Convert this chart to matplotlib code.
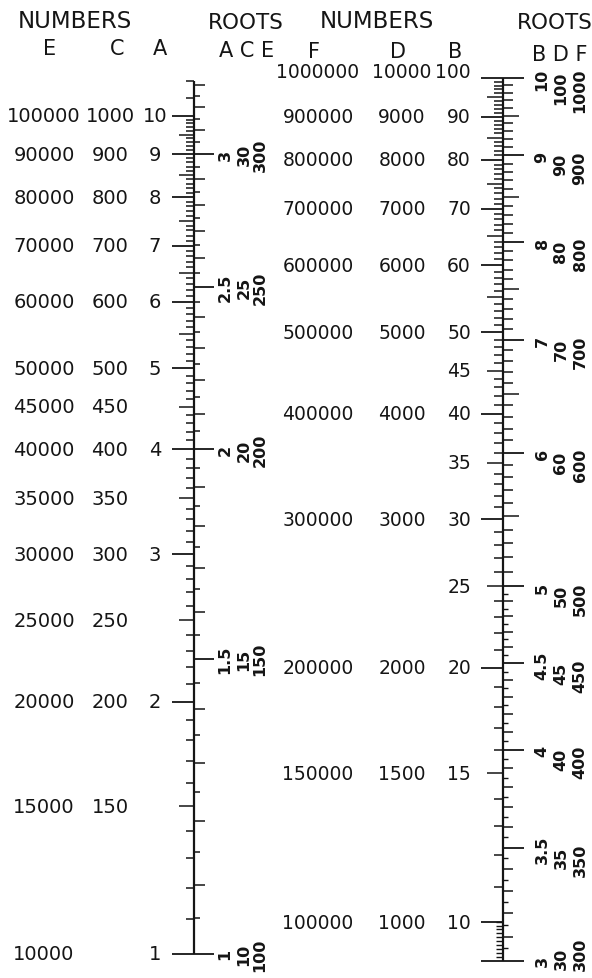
import numpy as np
import matplotlib.pyplot as plt
from matplotlib.transforms import offset_copy

# ---- left scale: numbers A (1..10), C = 100*A, E = 10000*A ----
left_vals = [10, 9, 8, 7, 6, 5, 4.5, 4, 3.5, 3, 2.5, 2, 1.5, 1]
col_e = ["100000", "90000", "80000", "70000", "60000", "50000", "45000",
         "40000", "35000", "30000", "25000", "20000", "15000", "10000"]
col_c = ["1000", "900", "800", "700", "600", "500", "450",
         "400", "350", "300", "250", "200", "150", ""]
col_a = ["10", "9", "8", "7", "6", "5", "", "4", "", "3", "", "2", "", "1"]

# roots on the left scale
left_roots = [1, 1.5, 2, 2.5, 3]
left_root_a = ["1", "1.5", "2", "2.5", "3"]
left_root_c = ["10", "15", "20", "25", "30"]
left_root_e = ["100", "150", "200", "250", "300"]

# ---- right scale: numbers B (10..100), D = 100*B, F = 10000*B ----
right_vals = [100, 90, 80, 70, 60, 50, 45, 40, 35, 30, 25, 20, 15, 10]
col_f = ["1000000", "900000", "800000", "700000", "600000", "500000", "",
         "400000", "", "300000", "", "200000", "150000", "100000"]
col_d = ["10000", "9000", "8000", "7000", "6000", "5000", "",
         "4000", "", "3000", "", "2000", "1500", "1000"]
col_b = ["100", "90", "80", "70", "60", "50", "45",
         "40", "35", "30", "25", "20", "15", "10"]

# roots on the right scale
right_roots = [3, 3.5, 4, 4.5, 5, 6, 7, 8, 9, 10]
right_root_b = ["3", "3.5", "4", "4.5", "5", "6", "7", "8", "9", "10"]
right_root_d = ["30", "35", "40", "45", "50", "60", "70", "80", "90", "100"]
right_root_f = ["300", "350", "400", "450", "500", "600", "700", "800", "900", "1000"]

INK = "#151515"
W, H = 592, 979

fig = plt.figure(figsize=(W / 100, H / 100), dpi=100)
fig.patch.set_facecolor("white")

# both scales are log scales laid over the full figure, x in pixels
axl = fig.add_axes([0, 0, 1, 1])
axl.set_yscale("log")
axl.set_xlim(0, W)
axl.set_ylim(0.936, 13.79)
axl.axis("off")

axr = fig.add_axes([0, 0, 1, 1])
axr.set_yscale("log")
axr.set_xlim(0, W)
axr.set_ylim(8.583, 124.1)
axr.axis("off")


def ftext(x, y, s, **kw):
    fig.text(x / W, 1 - y / H, s, ha="center", va="center", color=INK, **kw)


# headers
ftext(75, 21, "NUMBERS", fontsize=16.5)
ftext(50, 49, "E", fontsize=15)
ftext(117, 49, "C", fontsize=15)
ftext(160, 49, "A", fontsize=15)
ftext(246, 23, "ROOTS", fontsize=15.5)
ftext(247, 51, "A C E", fontsize=15)
ftext(377, 22, "NUMBERS", fontsize=16.5)
ftext(314, 52, "F", fontsize=15)
ftext(398, 52, "D", fontsize=15)
ftext(455, 52, "B", fontsize=15)
ftext(555, 23, "ROOTS", fontsize=15.5)
ftext(560, 55, "B D F", fontsize=15)

# ---------------- left scale ----------------
xl = 194
axl.vlines(xl, 1, 11, color=INK, lw=1.6)
num_fine = np.round(np.arange(1.1, 10.0, 0.1), 2)
num_minor = [v for v in num_fine if abs(v * 2 - round(v * 2)) > 1e-6]
num_half = [v for v in num_fine if abs(v * 2 - round(v * 2)) < 1e-6 and abs(v - round(v)) > 1e-6]
axl.hlines(num_minor + [10.5, 11], xl - 8, xl, color=INK, lw=1.1)
axl.hlines(num_half, xl - 15, xl, color=INK, lw=1.1)
axl.hlines(np.arange(1, 11), xl - 22, xl, color=INK, lw=1.3)

root_fine = np.round(np.arange(1.05, 3.31, 0.05), 2)
r_tenth = [r for r in root_fine if abs(r * 10 - round(r * 10)) < 1e-6 and r not in left_roots]
r_twentieth = [r for r in root_fine if abs(r * 10 - round(r * 10)) > 1e-6 and r not in left_roots]
axl.hlines(np.array(r_tenth) ** 2, xl, xl + 11, color=INK, lw=1.1)
axl.hlines(np.array(r_twentieth) ** 2, xl, xl + 6, color=INK, lw=1.1)
axl.hlines(np.array(left_roots) ** 2, xl, xl + 20, color=INK, lw=1.3)

for v, e, c, a in zip(left_vals, col_e, col_c, col_a):
    axl.text(44, v, e, ha="center", va="center", fontsize=14, color=INK)
    axl.text(110, v, c, ha="center", va="center", fontsize=14, color=INK)
    axl.text(155, v, a, ha="center", va="center", fontsize=14, color=INK)

for r, a, c, e in zip(left_roots, left_root_a, left_root_c, left_root_e):
    for x, s in zip([225, 244, 260], [a, c, e]):
        axl.text(x, r ** 2, s, ha="center", va="center", rotation=90,
                 fontsize=11.5, fontweight="bold", color=INK)

# ---------------- right scale ----------------
xr = 503
axr.vlines(xr, 9, 100, color=INK, lw=1.6)
low_fine = np.round(np.arange(9.1, 10.0, 0.1), 2)
axr.hlines(low_fine, xr - 7, xr, color=INK, lw=1.0)
units = np.arange(11, 100)
axr.hlines([u for u in units if u % 5], xr - 9, xr, color=INK, lw=1.1)
axr.hlines([u for u in units if u % 5 == 0 and u % 10], xr - 16, xr, color=INK, lw=1.1)
axr.hlines(np.arange(10, 101, 10).tolist() + [9], xr - 22, xr, color=INK, lw=1.3)

rr_a = np.round(np.arange(3.05, 5.0, 0.05), 2)
rr_b = np.round(np.arange(5.1, 10.0, 0.1), 2)
rr_all = list(rr_a) + list(rr_b)
rr_half = [r for r in rr_all if abs(r * 2 - round(r * 2)) < 1e-6 and r not in right_roots]
rr_tenth = [r for r in rr_all if abs(r * 10 - round(r * 10)) < 1e-6
            and r not in right_roots and r not in rr_half]
rr_twentieth = [r for r in rr_all if abs(r * 10 - round(r * 10)) > 1e-6]
axr.hlines(np.array(rr_twentieth) ** 2, xr, xr + 5, color=INK, lw=1.0)
axr.hlines(np.array(rr_tenth) ** 2, xr, xr + 10, color=INK, lw=1.1)
axr.hlines(np.array(rr_half) ** 2, xr, xr + 16, color=INK, lw=1.1)
axr.hlines(np.array(right_roots) ** 2, xr, xr + 21, color=INK, lw=1.3)

for v, f, d, b in zip(right_vals, col_f, col_d, col_b):
    # the top row sits a little above its tick
    tr = offset_copy(axr.transData, fig=fig, y=7 if v == 100 else 0, units="dots")
    axr.text(318, v, f, ha="center", va="center", fontsize=13.5, color=INK, transform=tr)
    axr.text(402, v, d, ha="center", va="center", fontsize=13.5, color=INK, transform=tr)
    axr.text(471, v, b, ha="right", va="center", fontsize=13.5, color=INK, transform=tr)

for r, b, d, f in zip(right_roots, right_root_b, right_root_d, right_root_f):
    shifts = [1, 9, 12] if r > 3 else [0, -3, -7]
    for x, s, dy in zip([542, 561, 580], [b, d, f], shifts):
        tr = offset_copy(axr.transData, fig=fig, y=-dy, units="dots")
        axr.text(x, r ** 2, s, ha="center", va="center", rotation=90,
                 fontsize=11.5, fontweight="bold", color=INK, transform=tr)

fig.savefig("out.png", dpi=100, facecolor="white")
